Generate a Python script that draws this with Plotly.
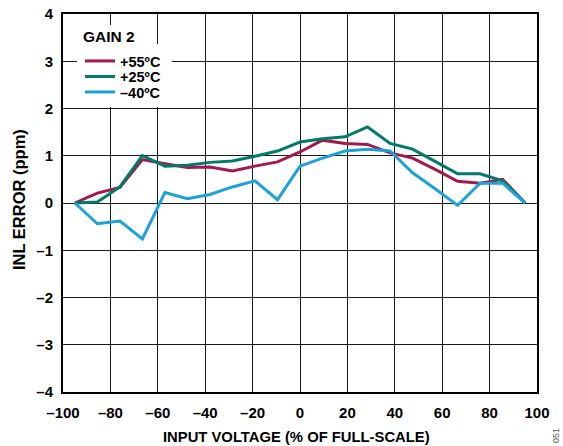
import plotly.graph_objects as go

x_pct = [-95, -85.5, -76, -66.5, -57, -47.5, -38, -28.5, -19, -9.5, 0,
         9.5, 19, 28.5, 38, 47.5, 57, 66.5, 76, 85.5, 95]
inl_p55 = [0, 0.21, 0.33, 0.92, 0.83, 0.75, 0.76, 0.68, 0.78, 0.87, 1.08,
           1.33, 1.26, 1.24, 1.06, 0.95, 0.71, 0.46, 0.42, 0.50, 0]
inl_p25 = [0, 0.02, 0.34, 1.00, 0.78, 0.80, 0.86, 0.89, 0.99, 1.10, 1.29,
           1.36, 1.40, 1.61, 1.26, 1.14, 0.88, 0.62, 0.62, 0.47, 0]
inl_m40 = [0, -0.44, -0.38, -0.76, 0.22, 0.09, 0.18, 0.34, 0.47, 0.07, 0.78,
           0.95, 1.10, 1.14, 1.10, 0.64, 0.30, -0.05, 0.42, 0.42, 0]
series_names = ["+55ºC", "+25ºC", "–40ºC"]
x_tickvals = [-100, -80, -60, -40, -20, 0, 20, 40, 60, 80, 100]
x_ticktext = ["–100", "–80", "–60", "–40", "–20", "0", "20", "40", "60", "80", "100"]
y_tickvals = [-4, -3, -2, -1, 0, 1, 2, 3, 4]
y_ticktext = ["–4", "–3", "–2", "–1", "0", "1", "2", "3", "4"]

colors = ["#A3194B", "#007A6B", "#1CA2D9"]
FONT = "Liberation Sans, Arial, sans-serif"

# plot area geometry (px)
W, H = 563, 446
ML, MR, MT, MB = 63, 26, 14, 54
PW, PH = W - ML - MR, H - MT - MB

def py2paper(py):
    return (H - MB - py) / PH

def px2paper(px):
    return (px - ML) / PW

legend_ids = ["legend", "legend2", "legend3"]
legend_centers_py = [61, 76.5, 92]

fig = go.Figure()
for name, ys, c, lg in zip(series_names, [inl_p55, inl_p25, inl_m40], colors, legend_ids):
    fig.add_trace(go.Scatter(x=x_pct, y=ys, mode="lines", name=name,
                             line=dict(color=c, width=3), legend=lg))

axis_common = dict(showgrid=True, gridcolor="#1a1a1a", gridwidth=1,
                   showline=True, linecolor="black", linewidth=2, mirror=True,
                   zeroline=False, ticks="", automargin=False,
                   tickfont=dict(family=FONT, size=15, color="black", weight="bold"))

fig.update_xaxes(range=[-100, 100], tickvals=x_tickvals, ticktext=x_ticktext,
                 ticklabelstandoff=6, **axis_common)
fig.update_yaxes(range=[-4, 4], tickvals=y_tickvals, ticktext=y_ticktext,
                 ticklabelstandoff=5, **axis_common)

legend_font = dict(family=FONT, size=14.5, color="black", weight="bold")
legend_layout = {}
for lg, cy in zip(legend_ids, legend_centers_py):
    legend_layout[lg] = dict(x=px2paper(80), y=py2paper(cy), xanchor="left", yanchor="middle",
                             bgcolor="rgba(0,0,0,0)", borderwidth=0, font=legend_font,
                             itemwidth=30)

fig.update_layout(
    width=W, height=H,
    margin=dict(l=ML, r=MR, t=MT, b=MB),
    plot_bgcolor="white", paper_bgcolor="white",
    showlegend=True,
    **legend_layout,
    shapes=[
        # white backing behind the legend block (hides grid lines there)
        dict(type="rect", xref="paper", yref="paper", layer="above",
             x0=px2paper(77), x1=px2paper(172), y0=py2paper(107), y1=py2paper(44),
             fillcolor="white", line=dict(width=0)),
        dict(type="rect", xref="paper", yref="paper", layer="above",
             x0=px2paper(77), x1=px2paper(140), y0=py2paper(44), y1=py2paper(25),
             fillcolor="white", line=dict(width=0)),
    ],
    annotations=[
        dict(text="GAIN 2", x=px2paper(109), y=py2paper(36), xref="paper", yref="paper",
             xanchor="center", yanchor="middle", showarrow=False,
             font=dict(family=FONT, size=15.5, color="black", weight="bold")),
        dict(text="INPUT VOLTAGE (% OF FULL-SCALE)", x=px2paper(296), y=py2paper(437),
             xref="paper", yref="paper", xanchor="center", yanchor="middle",
             showarrow=False,
             font=dict(family=FONT, size=14.8, color="black", weight="bold")),
        dict(text="INL ERROR (ppm)", x=px2paper(19), y=py2paper(200),
             xref="paper", yref="paper", xanchor="center", yanchor="middle",
             textangle=-90, showarrow=False,
             font=dict(family=FONT, size=16.5, color="black", weight="bold")),
        dict(text="051", x=px2paper(556), y=py2paper(436), xref="paper", yref="paper",
             xanchor="center", yanchor="middle", textangle=-90, showarrow=False,
             font=dict(family=FONT, size=9, color="#555")),
    ],
)

fig.write_html("out.html", config={"displayModeBar": False},
               post_script="document.body.style.margin='0';document.body.style.overflow='hidden';")
